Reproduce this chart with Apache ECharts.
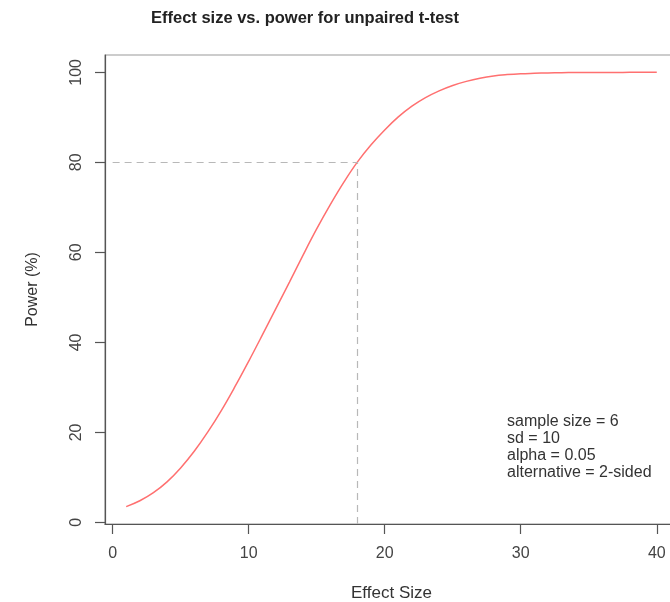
<!DOCTYPE html>
<html>
<head>
<meta charset="utf-8">
<title>Effect size vs. power</title>
<script src="https://cdn.jsdelivr.net/npm/echarts@6/dist/echarts.min.js"></script>
<style>
  html, body { margin: 0; padding: 0; background: #fff; }
  #chart { width: 670px; height: 602px; }
</style>
</head>
<body>
<div id="chart"></div>
<script>
// effect sizes and power (%)
var effectSize = [1, 2, 3, 4, 5, 6, 7, 8, 9, 10,
                  11, 12, 13, 14, 15, 16, 17, 18, 19, 20,
                  21, 22, 23, 24, 25, 26, 27, 28, 29, 30,
                  31, 32, 33, 34, 35, 36, 37, 38, 39, 40];
var power = [3.5, 4.8, 6.6, 9.0, 12.1, 15.8, 20.1, 24.9, 30.2, 35.8,
             41.6, 47.5, 53.4, 59.4, 65.2, 70.6, 75.6, 80.1, 83.9, 87.2,
             90.1, 92.5, 94.4, 95.9, 97.1, 98.0, 98.7, 99.2, 99.5, 99.7,
             99.8, 99.88, 99.93, 99.96, 99.98, 99.99, 99.99, 100, 100, 100];
var xTicks = [0, 10, 20, 30, 40];
var yTicks = [0, 20, 40, 60, 80, 100];
var targetPower = 80;
var targetEffect = 18;
var notes = ["sample size = 6", "sd = 10", "alpha = 0.05", "alternative = 2-sided"];

var FONT = "Liberation Sans, Arial, Helvetica, sans-serif";

// R style 4% padding around the data range
function padRange(arr) {
    var lo = Math.min.apply(null, arr), hi = Math.max.apply(null, arr);
    var p = (hi - lo) * 0.04;
    return [lo - p, hi + p];
}
var xr = padRange(effectSize);
var yr = padRange(power);

var chart = echarts.init(document.getElementById("chart"), null, { renderer: "canvas" });

var option = {
    animation: false,
    backgroundColor: "#fff",
    title: {
        text: "Effect size vs. power for unpaired t-test",
        left: 300,
        textAlign: "center",
        top: 5,
        textStyle: { fontFamily: FONT, fontSize: 16.5, fontWeight: "bold", color: "#222" }
    },
    grid: {
        left: 105, right: -8, top: 55, bottom: 78,
        show: true, borderColor: "#999", borderWidth: 1.2,
        outerBoundsMode: "none"
    },
    xAxis: {
        type: "value",
        min: xr[0], max: xr[1],
        name: "Effect Size",
        nameLocation: "middle",
        nameGap: 61,
        nameTextStyle: { fontFamily: FONT, fontSize: 17, color: "#333" },
        axisLine: { show: true, onZero: false, lineStyle: { color: "#555", width: 1.2 } },
        axisTick: { show: true, inside: false, customValues: xTicks, length: 10, lineStyle: { color: "#555", width: 1.2 } },
        axisLabel: { customValues: xTicks, margin: 22, fontFamily: FONT, fontSize: 16, color: "#444" },
        splitLine: { show: false }
    },
    yAxis: {
        type: "value",
        min: yr[0], max: yr[1],
        name: "Power (%)",
        nameLocation: "middle",
        nameGap: 64,
        nameTextStyle: { fontFamily: FONT, fontSize: 16, color: "#333" },
        axisLine: { show: true, onZero: false, lineStyle: { color: "#555", width: 1.2 } },
        axisTick: { show: true, inside: false, customValues: yTicks, length: 10, lineStyle: { color: "#555", width: 1.2 } },
        axisLabel: { customValues: yTicks, rotate: 90, margin: 20, fontFamily: FONT, fontSize: 16, color: "#444" },
        splitLine: { show: false }
    },
    graphic: [{
        type: "text",
        left: 507,
        top: 413,
        style: {
            text: notes.join("\n"),
            font: "16px " + FONT,
            lineHeight: 17,
            fill: "#333"
        }
    }],
    series: [{
        type: "line",
        data: effectSize.map(function(x, i) { return [x, power[i]]; }),
        showSymbol: false,
        smooth: 0.4,
        lineStyle: { color: "#ff7070", width: 1.5 },
        markLine: {
            silent: true,
            symbol: "none",
            label: { show: false },
            lineStyle: { color: "#b8b8b8", width: 1.2, type: [7, 5] },
            data: [
                [{ coord: [0, targetPower] }, { coord: [targetEffect, targetPower] }],
                [{ coord: [targetEffect, yr[0]] }, { coord: [targetEffect, targetPower] }]
            ]
        }
    }]
};
chart.setOption(option);
</script>
</body>
</html>
